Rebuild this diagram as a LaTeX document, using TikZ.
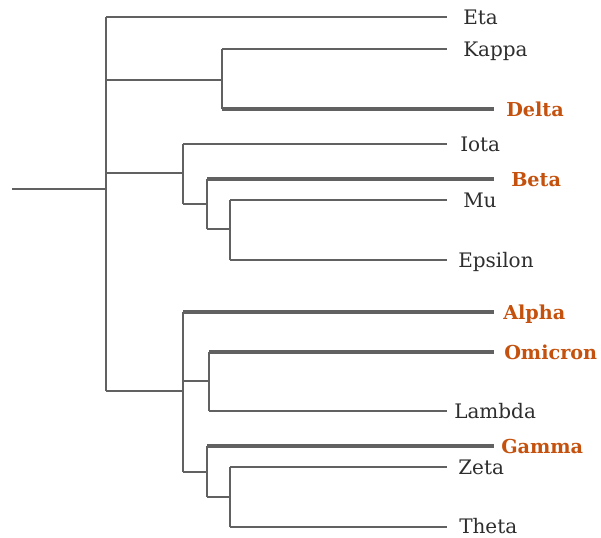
\documentclass[tikz,border=0pt]{standalone}
\usepackage{fontspec}
\setmainfont{DejaVu Serif}
\begin{document}
\begin{tikzpicture}[x=0.75pt,y=-0.75pt,
  br/.style={draw=edgegray,line width=1.7pt},
  thk/.style={draw=edgegray,line width=2.5pt},
  lab/.style={anchor=base west,inner sep=0pt,text=labgray,font=\fontsize{15}{18}\selectfont},
  hl/.style={anchor=base west,inner sep=0pt,text=hlorange,font=\fontsize{14.4}{18}\selectfont\bfseries}]
\definecolor{edgegray}{HTML}{616161}
\definecolor{labgray}{HTML}{2E2E2E}
\definecolor{hlorange}{HTML}{C4520E}
\useasboundingbox (0,0) rectangle (601,537);
% internal nodes
\coordinate (r) at (12,189);
\coordinate (n0) at (106,189);
\coordinate (n1) at (222,80);
\coordinate (n2) at (183,173);
\coordinate (n4) at (207,204);
\coordinate (n5) at (230,229);
\coordinate (n3) at (183,391);
\coordinate (n6) at (209,381);
\coordinate (n7) at (207,472);
\coordinate (n8) at (230,497);
% leaf tips
\coordinate (tEta) at (447,17);
\coordinate (tKappa) at (447,49);
\coordinate (tDelta) at (494,109);
\coordinate (tIota) at (447,144);
\coordinate (tBeta) at (494,179);
\coordinate (tMu) at (447,200);
\coordinate (tEpsilon) at (447,260);
\coordinate (tAlpha) at (494,312);
\coordinate (tOmicron) at (494,352);
\coordinate (tLambda) at (447,411);
\coordinate (tGamma) at (494,446);
\coordinate (tZeta) at (447,467);
\coordinate (tTheta) at (447,527);
% labels
\node[lab] (Eta) at (463,24.5) {Eta};
\node[lab] (Kappa) at (463,56.5) {Kappa};
\node[hl] (Delta) at (506,116.5) {Delta};
\node[lab] (Iota) at (460,151.5) {Iota};
\node[hl] (Beta) at (511,186.5) {Beta};
\node[lab] (Mu) at (463,207.5) {Mu};
\node[lab] (Epsilon) at (458,267.5) {Epsilon};
\node[hl] (Alpha) at (503,319.5) {Alpha};
\node[hl] (Omicron) at (504,359.5) {Omicron};
\node[lab] (Lambda) at (454,418.5) {Lambda};
\node[hl] (Gamma) at (501,453.5) {Gamma};
\node[lab] (Zeta) at (458,474.5) {Zeta};
\node[lab] (Theta) at (459,533.5) {Theta};
% root
\draw[br] (r) -- (n0);
% verticals
\draw[br] (n0 |- tEta) -- (n0 |- n3);
\draw[br] (n1 |- tKappa) -- (n1 |- tDelta);
\draw[br] (n2 |- tIota) -- (n2 |- n4);
\draw[br] (n4 |- tBeta) -- (n4 |- n5);
\draw[br] (n5 |- tMu) -- (n5 |- tEpsilon);
\draw[br] (n3 |- tAlpha) -- (n3 |- n7);
\draw[br] (n6 |- tOmicron) -- (n6 |- tLambda);
\draw[br] (n7 |- tGamma) -- (n7 |- n8);
\draw[br] (n8 |- tZeta) -- (n8 |- tTheta);
% horizontals to internal nodes
\draw[br] (n0 |- n1) -- (n1);
\draw[br] (n0 |- n2) -- (n2);
\draw[br] (n0 |- n3) -- (n3);
\draw[br] (n2 |- n4) -- (n4);
\draw[br] (n4 |- n5) -- (n5);
\draw[br] (n3 |- n6) -- (n6);
\draw[br] (n3 |- n7) -- (n7);
\draw[br] (n7 |- n8) -- (n8);
% horizontals to leaves
\draw[br] (n0 |- tEta) -- (tEta);
\draw[br] (n1 |- tKappa) -- (tKappa);
\draw[thk] (n1 |- tDelta) -- (tDelta);
\draw[br] (n2 |- tIota) -- (tIota);
\draw[thk] (n4 |- tBeta) -- (tBeta);
\draw[br] (n5 |- tMu) -- (tMu);
\draw[br] (n5 |- tEpsilon) -- (tEpsilon);
\draw[thk] (n3 |- tAlpha) -- (tAlpha);
\draw[thk] (n6 |- tOmicron) -- (tOmicron);
\draw[br] (n6 |- tLambda) -- (tLambda);
\draw[thk] (n7 |- tGamma) -- (tGamma);
\draw[br] (n8 |- tZeta) -- (tZeta);
\draw[br] (n8 |- tTheta) -- (tTheta);
\end{tikzpicture}
\end{document}
